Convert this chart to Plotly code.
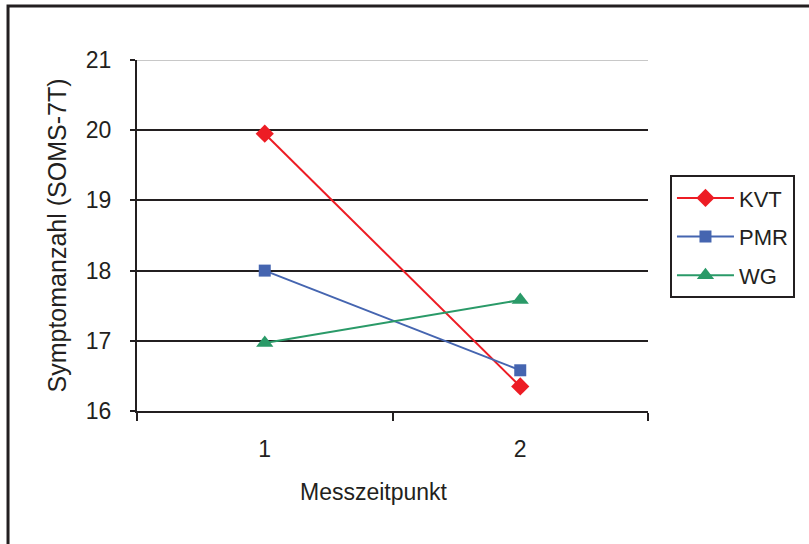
import plotly.graph_objects as go

categories = ["1", "2"]
kvt = [19.95, 16.35]
pmr = [18.0, 16.58]
wg = [16.97, 17.58]
series_names = ["KVT", "PMR", "WG"]
y_ticks = [16, 17, 18, 19, 20, 21]
x_title = "Messzeitpunkt"
y_title = "Symptomanzahl (SOMS-7T)"

colors = ["#ed1c24", "#4565b0", "#2a9a68"]
symbols = ["diamond", "square", "triangle-up"]
sizes = [14, 12, 15]
FONT = "Liberation Sans, Arial, sans-serif"
INK = "#231f20"

fig = go.Figure()
for i, (name, vals) in enumerate(zip(series_names, [kvt, pmr, wg])):
    fig.add_trace(go.Scatter(
        x=categories, y=vals, name=name, mode="lines+markers",
        line=dict(color=colors[i], width=2),
        marker=dict(symbol=symbols[i], size=sizes[i], color=colors[i]),
        legendgroup=name,
    ))

fig.update_layout(
    width=809, height=544,
    margin=dict(l=137, r=161, t=60, b=133),
    paper_bgcolor="white", plot_bgcolor="white",
    font=dict(family=FONT, size=22, color=INK),
    showlegend=True,
    legend=dict(
        x=1.043, y=0.672, xanchor="left", yanchor="top",
        bordercolor=INK, borderwidth=2, bgcolor="white",
        font=dict(size=22, color=INK),
        traceorder="grouped", tracegroupgap=7,
        itemwidth=57, entrywidth=124,
    ),
    xaxis=dict(
        type="category", range=[-0.5, 1.5],
        tickson="boundaries", ticks="outside", ticklen=8, tickwidth=2, tickcolor=INK,
        showline=True, linecolor=INK, linewidth=2,
        showgrid=False, zeroline=False,
        tickfont=dict(size=23), ticklabelstandoff=16,
    ),
    yaxis=dict(
        range=[y_ticks[0], y_ticks[-1]], tickvals=y_ticks,
        ticks="outside", ticklen=5, tickwidth=2, tickcolor=INK,
        showline=True, linecolor=INK, linewidth=2,
        showgrid=True, gridcolor=INK, gridwidth=2, zeroline=False,
        tickfont=dict(size=23), ticklabelstandoff=14,
        title=dict(text=y_title, font=dict(size=25), standoff=12),
    ),
    annotations=[
        dict(text=x_title, xref="paper", yref="paper", x=0.463, y=-0.23,
             xanchor="center", yanchor="middle", showarrow=False, font=dict(size=23)),
    ],
    shapes=[
        dict(type="line", xref="paper", yref="y", x0=0, x1=1,
             y0=y_ticks[-1], y1=y_ticks[-1], line=dict(color="#c8c8c8", width=2), layer="below"),
        dict(type="rect", xref="paper", yref="paper", x0=-0.2524, x1=1.5, y0=-0.5, y1=1.1538,
             line=dict(color=INK, width=3), layer="above"),
    ],
)

fig.write_html("out.html", config={"displayModeBar": False},
               post_script="document.body.style.margin='0';document.body.style.overflow='hidden';")
